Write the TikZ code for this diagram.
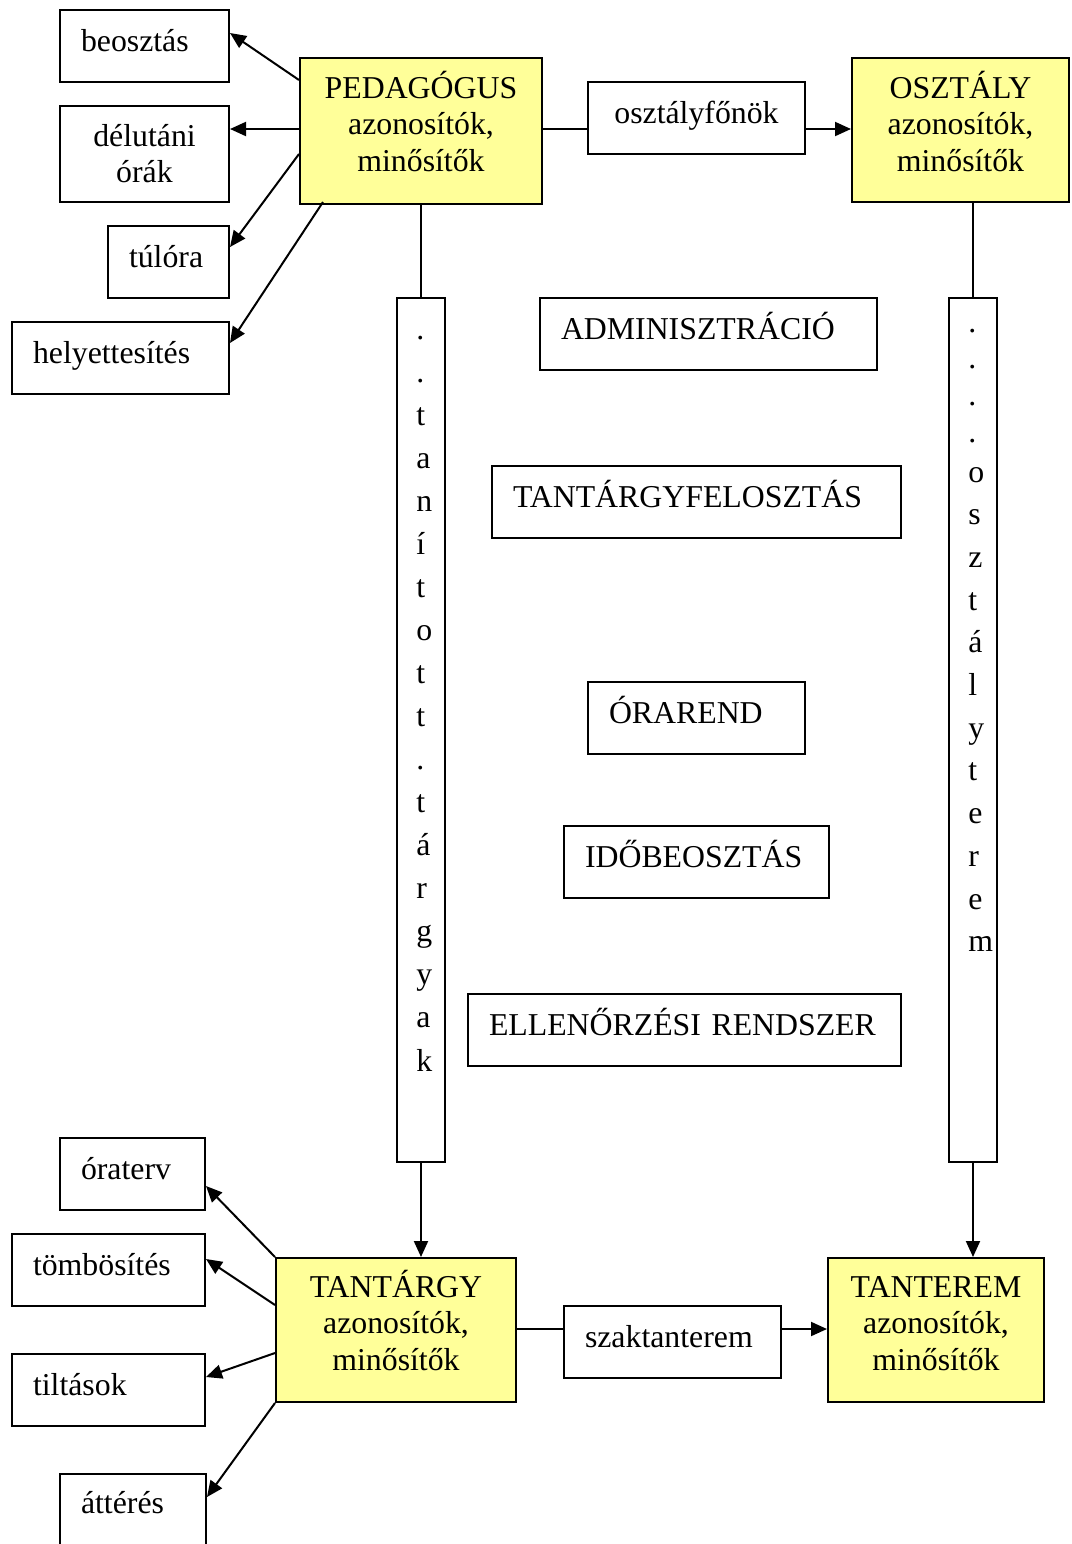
\documentclass[tikz,border=0pt]{standalone}
\usepackage{fontspec}
\setmainfont{Liberation Serif}
\usetikzlibrary{arrows.meta}
\definecolor{yel}{HTML}{FFFF99}
\begin{document}
\begin{tikzpicture}[x=0.5pt,y=-0.5pt,
  every node/.style={font=\fontsize{15.9pt}{18.4pt}\selectfont},
  bx/.style={draw, line width=1pt, anchor=north west, inner ysep=0pt, inner xsep=10.5pt,
    minimum height=36pt, text height=10pt, text depth=5pt, align=left, text width=#1},
  ybx/.style={draw, line width=1pt, fill=yel, anchor=north west, inner ysep=0pt, inner xsep=4pt,
    minimum height=72pt, text height=10pt, text depth=42pt, align=center, text width=#1},
  vbx/.style={draw, line width=1pt, anchor=north west, minimum width=24pt, minimum height=432pt, inner sep=0pt},
  chr/.style={anchor=base west, inner sep=0pt},
  arr/.style={line width=1pt, -{Triangle[length=8pt,width=7pt]}},
  ln/.style={line width=1pt}]
\clip (0,0) rectangle (1072,1544);

% main entity boxes
\node[ybx=113pt, minimum height=73pt, text depth=43pt] (ped) at (299,57) {PEDAGÓGUS\\azonosítók,\\minősítők};
\node[ybx=100.5pt] (osz) at (851,57) {OSZTÁLY\\azonosítók,\\minősítők};
\node[ybx=112pt, text depth=43pt] (tgy) at (275,1257) {TANTÁRGY\\azonosítók,\\minősítők};
\node[ybx=100pt, text depth=43pt] (tte) at (827,1257) {TANTEREM\\azonosítók,\\minősítők};

% top-left boxes
\node[bx=63.5pt] (beo) at (59,9) {beosztás};
\node[bx=76.5pt, inner xsep=4pt, minimum height=48pt, text depth=18pt, align=center] (del) at (59,105) {délutáni\\órák};
\node[bx=39.5pt] (tul) at (107,225) {túlóra};
\node[bx=87.5pt] (hely) at (11,321) {helyettesítés};

% relation boxes
\node[bx=87.5pt, align=center] (ofo) at (587,81) {osztályfőnök};
\node[bx=87.5pt] (szak) at (563,1305) {szaktanterem};

% middle boxes
\node[bx=147.5pt] (adm) at (539,297) {ADMINISZTRÁCIÓ};
\node[bx=183.5pt] (tfel) at (491,465) {TANTÁRGYFELOSZTÁS};
\node[bx=87.5pt] (ora) at (587,681) {ÓRAREND};
\node[bx=111.5pt] (ido) at (563,825) {IDŐBEOSZTÁS};
\node[bx=195.5pt] (ell) at (467,993) {ELLENŐRZÉSI RENDSZER};

% bottom-left boxes
\node[bx=51.5pt] (oter) at (59,1137) {óraterv};
\node[bx=75.5pt] (tomb) at (11,1233) {tömbösítés};
\node[bx=75.5pt] (tilt) at (11,1353) {tiltások};
\node[bx=52pt, minimum height=50pt, text depth=21pt] (att) at (59,1473) {áttérés};

% vertical boxes
\node[vbx] (vt) at (396,297) {};
\node[vbx] (vr) at (948,297) {};
\foreach \ch [count=\i] in {.,.,t,a,n,í,t,o,t,t,.,t,á,r,g,y,a,k}
  \node[chr] (lc\i) at (416,{339+43.06*(\i-1)}) {\ch};
\foreach \ch [count=\i] in {.,.,.,.}
  \node[chr] (rd\i) at (968,{332+36.7*(\i-1)}) {\ch};
\foreach \ch [count=\i] in {o,s,z,t,á,l,y,t,e,r,e,m}
  \node[chr] (rc\i) at (968,{482+42.7*(\i-1)}) {\ch};

% connectors from PEDAGÓGUS
\draw[arr] ([shift={(0,23)}]ped.north west) -- ([shift={(0,24)}]beo.north east);
\draw[arr] ([shift={(0,72)}]ped.north west) -- ([shift={(0,24)}]del.north east);
\draw[arr] ([shift={(0,97)}]ped.north west) -- ([shift={(0,22)}]tul.north east);
\draw[arr] ([shift={(24,-3)}]ped.south west) -- ([shift={(0,22)}]hely.north east);
\draw[ln] ([shift={(0,72)}]ped.north east) -- ([shift={(0,48)}]ofo.north west);
\draw[arr] ([shift={(0,48)}]ofo.north east) -- ([shift={(0,72)}]osz.north west);
\draw[ln] (ped.south) -- (vt.north);
\draw[arr] (vt.south) -- (vt.south |- tgy.north);
\draw[ln] (vr.north |- osz.south) -- (vr.north);
\draw[arr] (vr.south) -- (vr.south |- tte.north);

% connectors from TANTÁRGY
\draw[arr] (tgy.north west) -- ([shift={(0,49)}]oter.north east);
\draw[arr] ([shift={(0,48)}]tgy.north west) -- ([shift={(0,26)}]tomb.north east);
\draw[arr] ([shift={(0,96)}]tgy.north west) -- ([shift={(0,24)}]tilt.north east);
\draw[arr] (tgy.south west) -- ([shift={(0,24)}]att.north east);
\draw[ln] ([shift={(0,72)}]tgy.north east) -- ([shift={(0,24)}]szak.north west);
\draw[arr] ([shift={(0,24)}]szak.north east) -- ([shift={(0,72)}]tte.north west);
\end{tikzpicture}
\end{document}
